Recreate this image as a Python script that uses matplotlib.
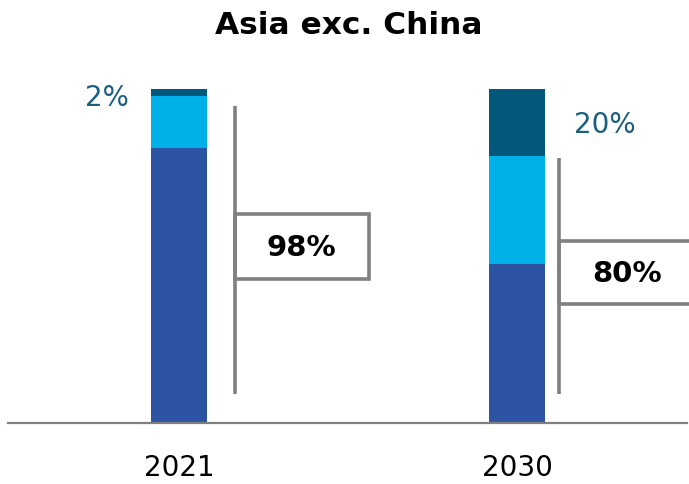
import matplotlib
matplotlib.use("Agg")
import matplotlib.pyplot as plt
from matplotlib import font_manager
from matplotlib.patches import Rectangle

years = ["2021", "2030"]
base_share = [82.5, 47.7]      # dark blue segment
mid_share = [15.5, 32.3]       # light blue segment
top_share = [2.0, 20.0]        # dark teal segment
bracket_labels = ["98%", "80%"]
top_labels = ["2%", "20%"]

C_DARK = "#2D54A2"
C_LIGHT = "#00B0E9"
C_TEAL = "#02577A"
C_LABEL = "#1A5F7E"
C_GRAY = "#808080"

names = {f.name for f in font_manager.fontManager.ttflist}
narrow = "Liberation Sans Narrow" if "Liberation Sans Narrow" in names else "DejaVu Sans"

W, H = 689, 484
fig = plt.figure(figsize=(W / 100, H / 100), dpi=100)
ax = fig.add_axes([8 / W, 61 / H, 679 / W, 333.7 / H])
ax.set_xlim(-0.506, 1.503)
ax.set_ylim(0, 100)

x = [0, 1]
bw = 0.166
ax.bar(x, base_share, width=bw, color=C_DARK, zorder=2)
ax.bar(x, mid_share, width=bw, bottom=base_share, color=C_LIGHT, zorder=2)
stack2 = [a + b for a, b in zip(base_share, mid_share)]
ax.bar(x, top_share, width=bw, bottom=stack2, color=C_TEAL, zorder=2)

# bracket annotations: vertical rule plus a box holding the combined share
brackets = [
    dict(xv=0.166, y0=8.7, y1=95.0, bx1=0.562, by0=43.2, by1=62.6, tx=0.362),
    dict(xv=1.124, y0=8.7, y1=79.4, bx1=1.60, by0=35.7, by1=54.5, tx=1.327),
]
for b, lab in zip(brackets, bracket_labels):
    ax.plot([b["xv"], b["xv"]], [b["y0"], b["y1"]], color=C_GRAY, lw=2.6,
            solid_capstyle="butt", clip_on=False, zorder=3)
    ax.add_patch(Rectangle((b["xv"], b["by0"]), b["bx1"] - b["xv"], b["by1"] - b["by0"],
                           fill=False, edgecolor=C_GRAY, lw=2.6, clip_on=False, zorder=3))
    ax.text(b["tx"], (b["by0"] + b["by1"]) / 2 - 0.4, lab, ha="center", va="center",
            fontsize=21, fontweight="bold", color="black", family="DejaVu Sans")

# share of the top segment
top_pos = [(-0.213, 97.3), (1.26, stack2[1] + top_share[1] / 2 - 0.6)]
for (tx, ty), lab in zip(top_pos, top_labels):
    ax.text(tx, ty, lab, ha="center", va="center", fontsize=20, color=C_LABEL,
            family="DejaVu Sans")

for s in ["top", "right", "left"]:
    ax.spines[s].set_visible(False)
ax.spines["bottom"].set_color(C_GRAY)
ax.spines["bottom"].set_linewidth(1.6)
ax.set_yticks([])
ax.set_xticks(x)
ax.set_xticklabels(years, fontsize=20, family=narrow)
ax.tick_params(axis="x", length=0, pad=22)

fig.text(349 / W, 1 - 25 / H, "Asia exc. China", ha="center", va="center",
         fontsize=22.5, fontweight="bold", family="DejaVu Sans")

fig.savefig("out.png", dpi=100)
